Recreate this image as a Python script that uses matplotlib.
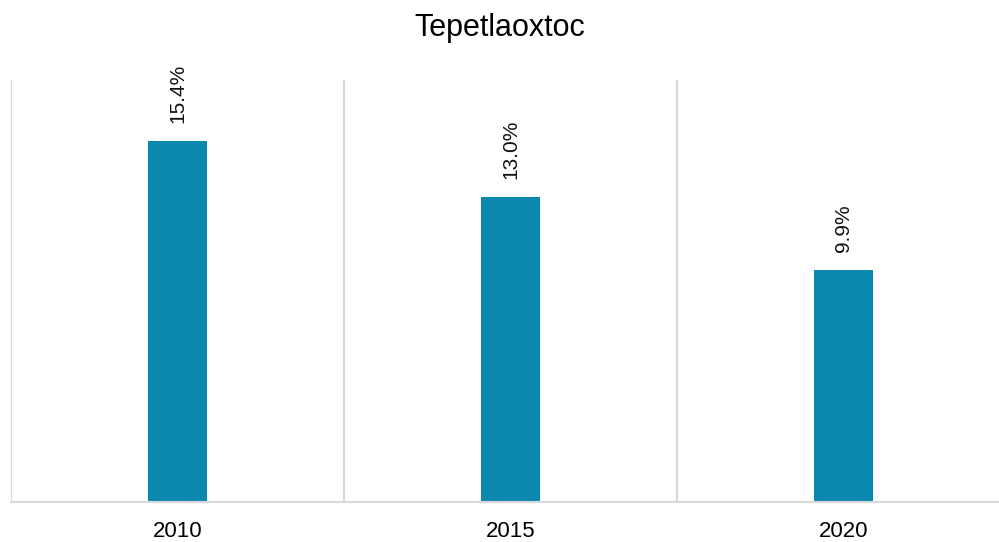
import numpy as np
import matplotlib
matplotlib.use('Agg')
from matplotlib import pyplot as plt

# Chart data
years = ['2010', '2015', '2020']
values = [15.4, 13.0, 9.9]
title = 'Tepetlaoxtoc'

plt.rcParams['font.family'] = ['Liberation Sans', 'DejaVu Sans']

fig = plt.figure(figsize=(9.99, 5.42), dpi=100)
ax = fig.add_axes([11 / 999, 40 / 542, 988 / 999, 422 / 542])

x = np.arange(len(years))
ax.bar(x, values, width=0.18, color='#0A88B0', zorder=2)

# Value labels, rotated
for xi, v in zip(x, values):
    ax.annotate('{:.1f}%'.format(v), (xi, v), xytext=(0, 13),
                textcoords='offset points', rotation=90,
                ha='center', va='bottom', fontsize=15, color='#111111')

# Category separators
for b in np.arange(len(years) + 1) - 0.5:
    ax.axvline(b, color='#d9d9d9', lw=1.5, zorder=1)

ax.set_xlim(-0.5, 2.467)
ax.set_ylim(0, 18)
ax.set_xticks(x)
ax.set_xticklabels(years, fontsize=16)
ax.tick_params(axis='x', length=0, pad=14)
ax.set_yticks([])
for side in ['top', 'right', 'left']:
    ax.spines[side].set_visible(False)
ax.spines['bottom'].set_color('#d9d9d9')
ax.spines['bottom'].set_linewidth(1.5)

fig.text(0.5, 1 - 28 / 542, title, ha='center', va='center', fontsize=22)

fig.savefig('out.png', dpi=100)
